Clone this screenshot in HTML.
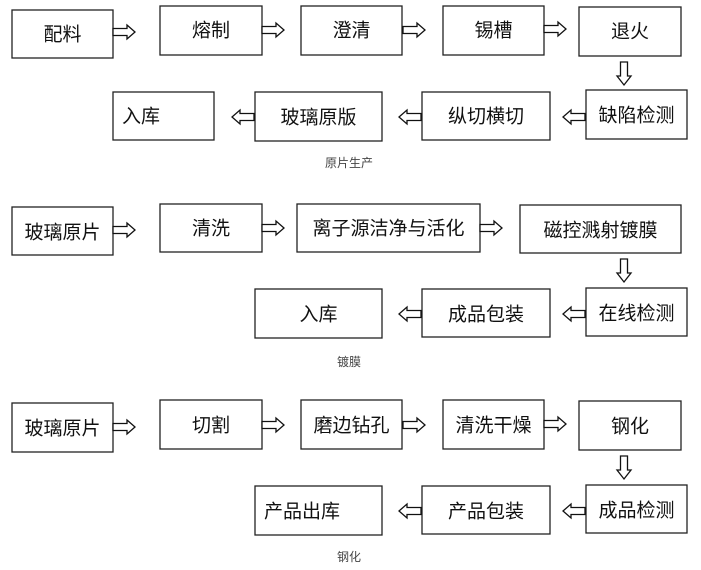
<!DOCTYPE html>
<html><head><meta charset="utf-8">
<style>
html,body{margin:0;padding:0;background:#fff;width:701px;height:570px;overflow:hidden}
svg{display:block}
text{font-family:"Liberation Sans","Noto Sans CJK SC",sans-serif;fill:#111}
.b{fill:#fff;stroke:#222;stroke-width:1.3}
.a{fill:#fff;stroke:#111;stroke-width:1.3;stroke-linejoin:miter}
.t{font-size:19px;text-anchor:middle;dominant-baseline:central}
.l{font-size:19px;dominant-baseline:central}
.c{font-size:12px;fill:#444;text-anchor:middle;dominant-baseline:central}
</style></head><body>
<svg width="701" height="570" viewBox="0 0 701 570" xmlns="http://www.w3.org/2000/svg">
<!-- Row 1 -->
<rect class="b" x="12" y="10" width="101" height="48"/><text class="t" x="62.5" y="35">配料</text>
<rect class="b" x="160" y="6" width="102" height="49"/><text class="t" x="211" y="31">熔制</text>
<rect class="b" x="301" y="6" width="101" height="49"/><text class="t" x="351.5" y="31">澄清</text>
<rect class="b" x="443" y="6" width="101" height="49"/><text class="t" x="493.5" y="31">锡槽</text>
<rect class="b" x="579" y="7" width="102" height="49"/><text class="t" x="630" y="32">退火</text>
<rect class="b" x="586" y="90" width="101" height="49"/><text class="t" x="636.5" y="116">缺陷检测</text>
<rect class="b" x="422" y="92" width="128" height="48"/><text class="t" x="486" y="117">纵切横切</text>
<rect class="b" x="255" y="92" width="127" height="49"/><text class="t" x="318.5" y="118">玻璃原版</text>
<rect class="b" x="113" y="92" width="101" height="48"/><text class="l" x="122" y="117">入库</text>
<text class="c" x="349" y="163">原片生产</text>

<path class="a" d="M113 28.5H127V25L135 32L127 39V35.5H113Z"/>
<path class="a" d="M262 26.5H276V23L284 30L276 37V33.5H262Z"/>
<path class="a" d="M403 26.5H417V23L425 30L417 37V33.5H403Z"/>
<path class="a" d="M544 25.5H558V22L566 29L558 36V32.5H544Z"/>
<path class="a" d="M620.5 62V76H617L624 85L631 76H627.5V62Z"/>
<path class="a" d="M585 113.5H571V110L563 117L571 124V120.5H585Z"/>
<path class="a" d="M421 113.5H407V110L399 117L407 124V120.5H421Z"/>
<path class="a" d="M254 113.5H240V110L232 117L240 124V120.5H254Z"/>

<!-- Row 2 -->
<rect class="b" x="12" y="207" width="101" height="48"/><text class="t" x="62.5" y="233">玻璃原片</text>
<rect class="b" x="160" y="204" width="102" height="48"/><text class="t" x="211" y="229">清洗</text>
<rect class="b" x="297" y="204" width="183" height="48"/><text class="t" x="388.5" y="229">离子源洁净与活化</text>
<rect class="b" x="520" y="205" width="161" height="48"/><text class="t" x="600.5" y="231">磁控溅射镀膜</text>
<rect class="b" x="586" y="288" width="101" height="48"/><text class="t" x="636.5" y="314">在线检测</text>
<rect class="b" x="422" y="289" width="128" height="48"/><text class="t" x="486" y="315">成品包装</text>
<rect class="b" x="255" y="289" width="127" height="49"/><text class="t" x="318.5" y="315">入库</text>
<text class="c" x="349" y="362">镀膜</text>

<path class="a" d="M113 226.5H127V223L135 230L127 237V233.5H113Z"/>
<path class="a" d="M262 224.5H276V221L284 228L276 235V231.5H262Z"/>
<path class="a" d="M480 224.5H494V221L502 228L494 235V231.5H480Z"/>
<path class="a" d="M620.5 259V273H617L624 282L631 273H627.5V259Z"/>
<path class="a" d="M585 310.5H571V307L563 314L571 321V317.5H585Z"/>
<path class="a" d="M421 310.5H407V307L399 314L407 321V317.5H421Z"/>

<!-- Row 3 -->
<rect class="b" x="12" y="403" width="101" height="49"/><text class="t" x="62.5" y="429">玻璃原片</text>
<rect class="b" x="160" y="400" width="102" height="49"/><text class="t" x="211" y="426">切割</text>
<rect class="b" x="301" y="400" width="101" height="49"/><text class="t" x="351.5" y="426">磨边钻孔</text>
<rect class="b" x="443" y="400" width="101" height="49"/><text class="t" x="493.5" y="426">清洗干燥</text>
<rect class="b" x="579" y="401" width="102" height="49"/><text class="t" x="630" y="427">钢化</text>
<rect class="b" x="586" y="485" width="101" height="48"/><text class="t" x="636.5" y="511">成品检测</text>
<rect class="b" x="422" y="486" width="128" height="48"/><text class="t" x="486" y="512">产品包装</text>
<rect class="b" x="255" y="486" width="127" height="49"/><text class="l" x="264" y="512">产品出库</text>
<text class="c" x="349" y="557">钢化</text>

<path class="a" d="M113 423.5H127V420L135 427L127 434V430.5H113Z"/>
<path class="a" d="M262 421.5H276V418L284 425L276 432V428.5H262Z"/>
<path class="a" d="M403 421.5H417V418L425 425L417 432V428.5H403Z"/>
<path class="a" d="M544 420.5H558V417L566 424L558 431V427.5H544Z"/>
<path class="a" d="M620.5 456V470H617L624 479L631 470H627.5V456Z"/>
<path class="a" d="M585 507.5H571V504L563 511L571 518V514.5H585Z"/>
<path class="a" d="M421 507.5H407V504L399 511L407 518V514.5H421Z"/>
</svg>
</body></html>
